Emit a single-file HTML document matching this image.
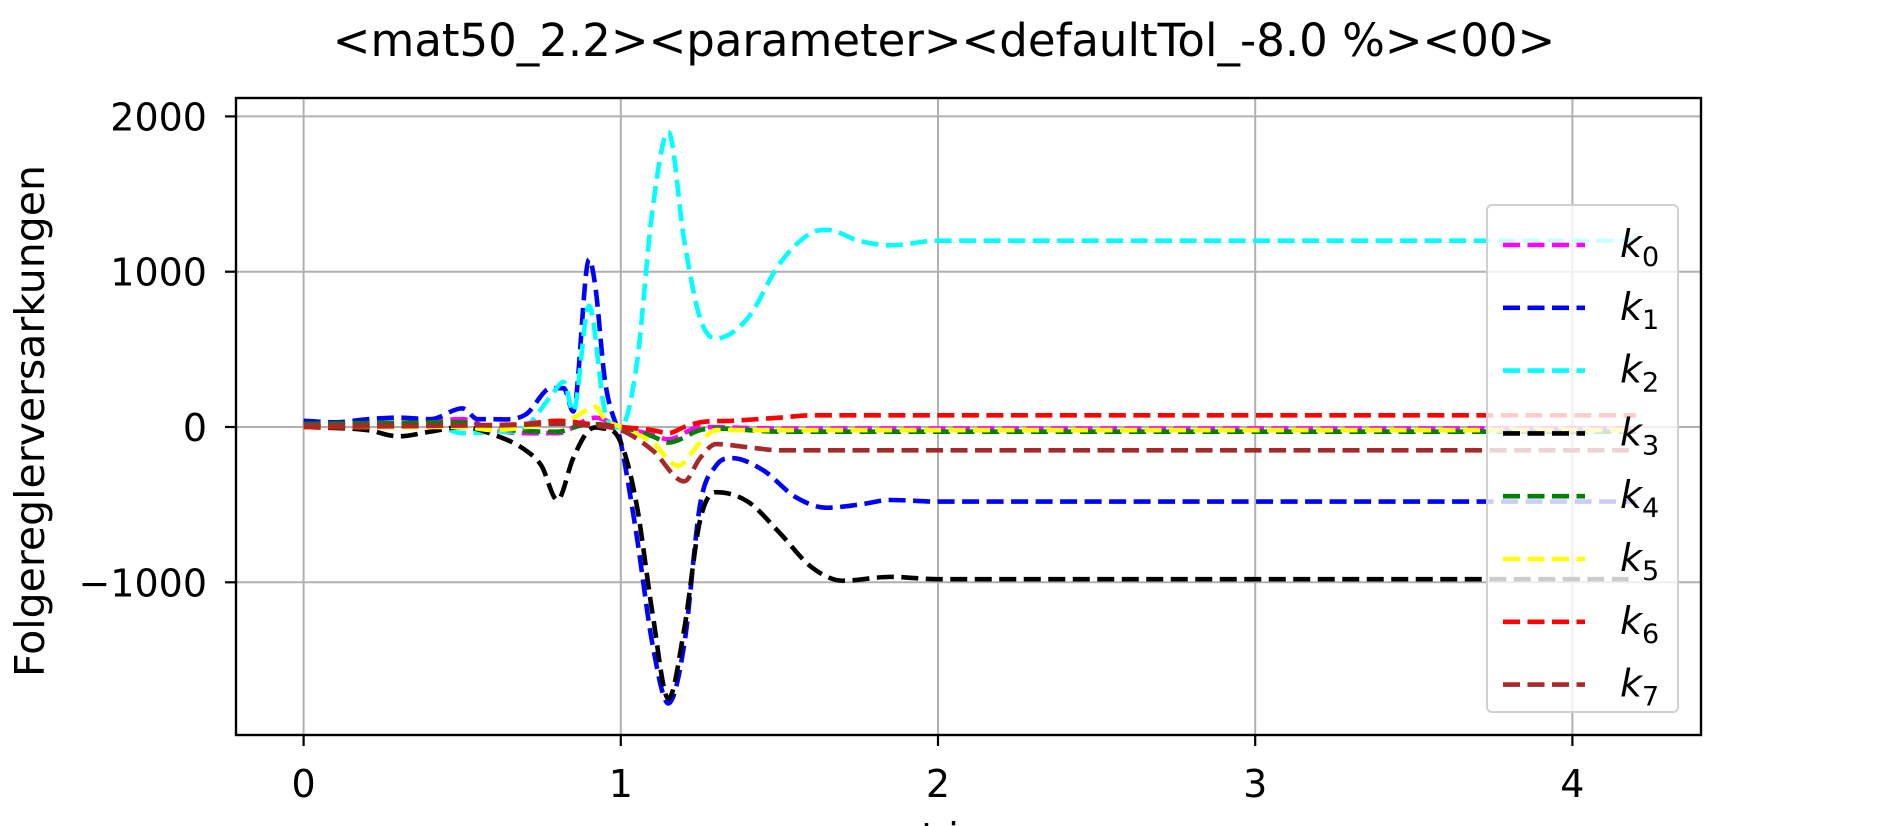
<!DOCTYPE html>
<html><head><meta charset="utf-8"><style>
body{margin:0;background:#fff}
svg{display:block;font-family:"DejaVu Sans","Liberation Sans",sans-serif}
</style></head><body>
<svg id="chart" width="1889" height="826" viewBox="0 0 1889 826" xmlns="http://www.w3.org/2000/svg">
<rect width="1889" height="826" fill="#fff"/>
<text x="944" y="56" font-size="45" text-anchor="middle">&lt;mat50_2.2&gt;&lt;parameter&gt;&lt;defaultTol_-8.0 %&gt;&lt;00&gt;</text>
<g id="grid"></g>
<g id="series"></g>
<rect x="236" y="98" width="1465" height="637" fill="none" stroke="#000" stroke-width="2.4"/>
<g id="ticks"></g>
<text transform="translate(44,421) rotate(-90)" font-size="41" text-anchor="middle">Folgereglerversarkungen</text>
<text x="968" y="850" font-size="38" text-anchor="middle">t in s</text>
<g id="legend"></g>
</svg>
<script>
const seriesNames=["k0","k1","k2","k3","k4","k5","k6","k7"];
const seriesColors=["#ff00ff","#0000ff","#00ffff","#000000","#008000","#ffff00","#ff0000","#a52a2a"];
const xTicks=[0,1,2,3,4];
const yTicks=[2000,1000,0,-1000];
const k0T=[0,0.3,0.5,0.6,0.8,0.92,1.0,1.1,1.15,1.25,1.5,4.2];
const k0V=[10,20,50,-20,-40,60,0,-50,-80,0,-10,-10];
const k1T=[0,0.1,0.2,0.3,0.4,0.5,0.55,0.6,0.7,0.78,0.82,0.85,0.9,0.92,0.95,1.0,1.05,1.1,1.15,1.2,1.25,1.3,1.35,1.45,1.55,1.65,1.75,1.85,2.0,4.2];
const k1V=[40,30,50,60,50,120,50,50,80,250,250,100,1080,900,300,-100,-700,-1400,-1780,-1400,-500,-250,-200,-280,-450,-520,-500,-470,-480,-480];
const k2T=[0,0.2,0.4,0.5,0.6,0.7,0.78,0.82,0.85,0.9,0.95,1.0,1.05,1.1,1.15,1.2,1.25,1.3,1.4,1.5,1.6,1.65,1.75,1.85,2.0,4.2];
const k2V=[0,0,20,-40,-30,0,200,290,100,780,100,0,400,1400,1900,1200,700,570,700,1050,1250,1270,1200,1170,1200,1200];
const k3T=[0,0.2,0.3,0.4,0.5,0.6,0.7,0.75,0.8,0.85,0.9,0.95,1.0,1.05,1.1,1.15,1.2,1.25,1.3,1.4,1.5,1.6,1.7,1.85,2.0,4.2];
const k3V=[0,-20,-60,-30,0,-50,-150,-250,-470,-200,-20,-10,-100,-500,-1200,-1750,-1300,-600,-420,-480,-680,-900,-990,-965,-980,-980];
const k4T=[0,0.5,0.6,0.8,0.9,1.0,1.1,1.15,1.25,1.3,1.5,4.2];
const k4V=[20,30,-10,-30,20,0,-60,-100,-20,-10,-30,-30];
const k5T=[0,0.5,0.6,0.7,0.85,0.92,0.95,1.0,1.1,1.18,1.25,1.3,1.4,4.2];
const k5V=[0,0,-20,0,60,130,50,0,-100,-250,-100,-20,-20,-20];
const k6T=[0,0.5,0.7,0.8,0.9,1.0,1.1,1.15,1.2,1.25,1.35,1.5,1.6,2.0,4.2];
const k6V=[0,10,20,40,20,0,-20,-40,0,30,40,60,75,75,75];
const k7T=[0,0.6,0.8,0.9,1.0,1.1,1.2,1.25,1.3,1.4,1.5,2.0,4.2];
const k7V=[10,10,20,10,-20,-150,-350,-200,-110,-130,-150,-150,-150];
const allT=[k0T,k1T,k2T,k3T,k4T,k5T,k6T,k7T];
const allV=[k0V,k1V,k2V,k3V,k4V,k5V,k6V,k7V];

const NS="http://www.w3.org/2000/svg";
const X0=303.6, XS=317.2, Y0=427, YS=0.1553;
function xs(v){return X0+v*XS;}
function ys(v){return Y0-v*YS;}
function mk(tag,parent){const e=document.createElementNS(NS,tag);parent.appendChild(e);return e;}
const grid=document.getElementById('grid'),ticks=document.getElementById('ticks');
xTicks.forEach(t=>{
  const l=mk('line',grid);
  
  
  l.setAttribute('x1',xs(t));l.setAttribute('x2',xs(t));l.setAttribute('y1',98);l.setAttribute('y2',735);
  l.setAttribute('stroke','#b0b0b0');l.setAttribute('stroke-width','2');
  const tk=mk('line',ticks);
  
  
  tk.setAttribute('x1',xs(t));tk.setAttribute('x2',xs(t));tk.setAttribute('y1',735);tk.setAttribute('y2',746);tk.setAttribute('stroke','#000');tk.setAttribute('stroke-width','2.2');
  const tx=mk('text',ticks);
  
  
  tx.setAttribute('x',xs(t));tx.setAttribute('y',797);tx.setAttribute('font-size','38');tx.setAttribute('text-anchor','middle');tx.textContent=t;
});
yTicks.forEach(t=>{
  const l=mk('line',grid);
  
  
  l.setAttribute('x1',236);l.setAttribute('x2',1701);l.setAttribute('y1',ys(t));l.setAttribute('y2',ys(t));
  l.setAttribute('stroke','#b0b0b0');l.setAttribute('stroke-width','2');
  const tk=mk('line',ticks);
  
  
  tk.setAttribute('x1',225);tk.setAttribute('x2',236);tk.setAttribute('y1',ys(t));tk.setAttribute('y2',ys(t));tk.setAttribute('stroke','#000');tk.setAttribute('stroke-width','2.2');
  const tx=mk('text',ticks);
  
  
  tx.setAttribute('x',207);tx.setAttribute('y',ys(t)+14);tx.setAttribute('font-size','38');tx.setAttribute('text-anchor','end');tx.textContent=t<0?'\u2212'+(-t):t;
});
function pathFrom(T,V){
  const p=T.map((t,i)=>[xs(t),ys(V[i])]);
  const n=p.length, m=[];
  for(let i=0;i<n;i++){
    if(i===0) m.push((p[1][1]-p[0][1])/(p[1][0]-p[0][0]));
    else if(i===n-1) m.push((p[i][1]-p[i-1][1])/(p[i][0]-p[i-1][0]));
    else {
      const s0=(p[i][1]-p[i-1][1])/(p[i][0]-p[i-1][0]), s1=(p[i+1][1]-p[i][1])/(p[i+1][0]-p[i][0]);
      m.push(s0*s1<=0?0:(s0+s1)/2);
    }
  }
  let d='M'+p[0][0]+','+p[0][1];
  for(let i=0;i<n-1;i++){
    const dx=(p[i+1][0]-p[i][0])/3;
    d+=' C'+(p[i][0]+dx)+','+(p[i][1]+m[i]*dx)+' '+(p[i+1][0]-dx)+','+(p[i+1][1]-m[i+1]*dx)+' '+p[i+1][0]+','+p[i+1][1];
  }
  return d;
}
const sg=document.getElementById('series');
allT.forEach((T,i)=>{
  const p=mk('path',sg);
  
  
  p.setAttribute('d',pathFrom(T,allV[i]));
  p.setAttribute('fill','none');p.setAttribute('stroke',seriesColors[i]);
  p.setAttribute('stroke-width','4.6');p.setAttribute('stroke-dasharray','17 7.5');
});
const lg=document.getElementById('legend');
const box=mk('rect',lg);


box.setAttribute('x',1487);box.setAttribute('y',205);box.setAttribute('width',191);box.setAttribute('height',507);box.setAttribute('rx',5);
box.setAttribute('fill','rgba(255,255,255,0.8)');box.setAttribute('stroke','#d0d0d0');box.setAttribute('stroke-width','2');
seriesNames.forEach((n,i)=>{
  const y=245+i*62.8;
  const l=mk('line',lg);
  
  
  l.setAttribute('x1',1503);l.setAttribute('x2',1585);l.setAttribute('y1',y);l.setAttribute('y2',y);
  l.setAttribute('stroke',seriesColors[i]);l.setAttribute('stroke-width','4.6');l.setAttribute('stroke-dasharray','17 7.5');
  const t=mk('text',lg);
  
  
  t.setAttribute('x',1620);t.setAttribute('y',y+12);t.setAttribute('font-size','38');
  const k=mk('tspan',t);k.setAttribute('font-style','italic');k.textContent='k';
  const s=mk('tspan',t);s.setAttribute('font-size','27');s.setAttribute('dy','9');s.textContent=String(i);
});
</script>
</body></html>
